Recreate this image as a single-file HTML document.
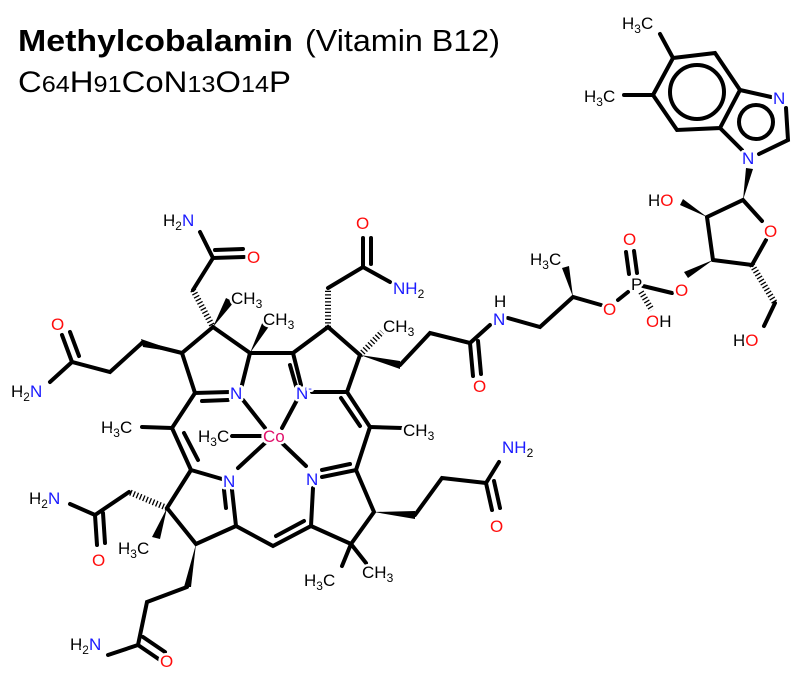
<!DOCTYPE html>
<html><head><meta charset="utf-8"><style>
body{margin:0;background:#fff}
svg{display:block}
.b{stroke:#000;stroke-width:4;stroke-linecap:round;fill:none}
.h{stroke:#000;stroke-width:6;stroke-dasharray:1.3 2.2;fill:none}
.w{fill:#000;stroke:none}
text{font-family:"Liberation Sans",sans-serif;font-size:17px;paint-order:stroke;stroke:#fff;stroke-width:5px;stroke-linejoin:round}
.n{fill:#1a1aff}.o{fill:#ff0d0d}.k{fill:#000}.c{fill:#e0106a}
.t{stroke:none}
</style></head><body>
<svg width="800" height="678" viewBox="0 0 800 678" xmlns="http://www.w3.org/2000/svg">
<text class="t" x="18" y="51" font-weight="bold" textLength="275" lengthAdjust="spacingAndGlyphs" style="font-size:31px">Methylcobalamin</text>
<text class="t" x="305" y="51" style="font-size:31px" textLength="195" lengthAdjust="spacingAndGlyphs">(Vitamin B12)</text>
<text class="t" x="18" y="92" style="font-size:30px" textLength="273" lengthAdjust="spacingAndGlyphs">C<tspan style="font-size:23px">64</tspan>H<tspan style="font-size:23px">91</tspan>CoN<tspan style="font-size:23px">13</tspan>O<tspan style="font-size:23px">14</tspan>P</text>

<g class="b">
<path d="M200,232 L213,258 L244,257"/><path d="M215,250 L243,249"/>
<path d="M213,258 L193,290"/>
<path d="M213,327 L182,353 L195,393 L230,392"/><path d="M242,385 L250,353 L213,327"/>
<path d="M202,401 L228,400"/>
<path d="M182,353 L142,343"/>
<path d="M142,343 L110,372 L72,362 L50,382"/>
<path d="M72,362 L62,335"/><path d="M79,356 L70,332"/>
<path d="M250,353 L293,353 L301,385"/><path d="M290,365 L296,386"/>
<path d="M293,353 L328,327 L360,355 L347,392 L312,392"/>
<path d="M328,288 L363,267 L390,282"/>
<path d="M363,267 L363,238"/><path d="M371,264 L371,238"/>
<path d="M400,365 L430,333 L470,343 L490,325"/>
<path d="M470,343 L473,376"/><path d="M478,341 L481,374"/>
<path d="M508,318 L540,327 L573,297 L601,305"/>
<path d="M618,300 L628,292"/>
<path d="M643,286 L672,293"/>
<path d="M629,274 L626,252"/><path d="M637,273 L634,251"/>
<path d="M713,260 L707,217 L743,200 L762,221"/>
<path d="M766,240 L752,265 L713,260"/>
<path d="M775,303 L764,326"/>
<path d="M653,95 L673,58 L715,53 L740,90 L720,128 L677,130 Z"/>
<circle cx="697" cy="92" r="27"/>
<path d="M740,90 L771,97"/><path d="M786,108 L788,140 L759,154"/>
<path d="M742,150 L720,128"/>
<circle cx="756" cy="122" r="17"/>
<path d="M673,58 L660,34"/><path d="M653,95 L624,95"/>
<path d="M243,400 L265,428"/><path d="M297,400 L282,428"/>
<path d="M265,443 L238,468"/><path d="M282,443 L306,466"/>
<path d="M232,436 L262,436"/>
<path d="M195,393 L172,428 L191,470 L222,479"/>
<path d="M184,433 L198,460"/>
<path d="M142,427 L172,428"/>
<path d="M191,470 L167,508 L196,544 L236,526 L232,490"/>
<path d="M226,508 L224,490"/>
<path d="M129,492 L95,515 L70,504"/><path d="M95,515 L97,545"/><path d="M103,513 L105,543"/>
<path d="M187,587 L147,602 L138,645 L108,655"/>
<path d="M138,645 L160,660"/><path d="M143,637 L165,652"/>
<path d="M236,526 L273,546 L311,526 L313,488"/>
<path d="M276,536 L304,521"/>
<path d="M311,526 L351,544 L374,512 L356,470 L322,477"/>
<path d="M322,470 L350,464"/>
<path d="M356,470 L370,427 L347,392"/><path d="M360,426 L341,398"/>
<path d="M370,427 L402,428"/>
<path d="M351,544 L342,566"/><path d="M351,544 L366,563"/>
<path d="M415,515 L442,478 L486,483 L499,462"/>
<path d="M486,483 L492,510"/><path d="M494,481 L500,508"/>
</g>
<g class="h">
<path d="M193,290 L213,327"/>
<path d="M328,327 L328,290"/>
<path d="M360,355 L382,332"/>
<path d="M167,508 L129,492"/>
<path d="M641,292 L652,310"/>
<path d="M752,265 L775,303"/>
</g>
<g class="w">
<polygon points="213,327 226,298 234,302"/>
<polygon points="250,353 263,321 270,325"/>
<polygon points="182,353 141,339 143,347"/>
<polygon points="360,355 400,361 400,369"/>
<polygon points="573,297 562,268 569,266"/>
<polygon points="713,260 688,278 684,272"/>
<polygon points="707,217 680,205 683,199"/>
<polygon points="743,200 746,168 753,169"/>
<polygon points="167,508 152,537 160,539"/>
<polygon points="196,544 184,587 191,587"/>
<polygon points="374,512 415,511 415,519"/>
</g>
<g>
<text class="k" x="163" y="226">H<tspan font-size="12" dy="4">2</tspan><tspan class="n" dy="-4">N</tspan></text>
<text class="o" x="247" y="263">O</text>
<text class="k" x="231" y="304">CH<tspan font-size="12" dy="4">3</tspan></text>
<text class="k" x="263" y="325">CH<tspan font-size="12" dy="4">3</tspan></text>
<text class="o" x="51" y="330">O</text>
<text class="k" x="11" y="397">H<tspan font-size="12" dy="4">2</tspan><tspan class="n" dy="-4">N</tspan></text>
<text class="n" x="230" y="399">N</text>
<text class="n" x="296" y="399">N<tspan font-size="11" dy="-7">-</tspan></text>
<text class="o" x="356" y="229">O</text>
<text class="n" x="393" y="294">NH<tspan class="k" font-size="12" dy="4">2</tspan></text>
<text class="k" x="383" y="332">CH<tspan font-size="12" dy="4">3</tspan></text>
<text class="o" x="473" y="392">O</text>
<text class="k" x="494" y="307">H</text>
<text class="n" x="493" y="325">N</text>
<text class="k" x="530" y="265">H<tspan font-size="12" dy="4">3</tspan><tspan dy="-4">C</tspan></text>
<text class="o" x="603" y="315">O</text>
<text class="k" x="631" y="290">P</text>
<text class="o" x="623" y="245">O</text>
<text class="o" x="646" y="327">O<tspan class="k">H</tspan></text>
<text class="o" x="675" y="296">O</text>
<text class="k" x="648" y="206">H<tspan class="o">O</tspan></text>
<text class="o" x="764" y="237">O</text>
<text class="k" x="733" y="346">H<tspan class="o">O</tspan></text>
<text class="n" x="742" y="164">N</text>
<text class="n" x="773" y="104">N</text>
<text class="k" x="622" y="29">H<tspan font-size="12" dy="4">3</tspan><tspan dy="-4">C</tspan></text>
<text class="k" x="584" y="102">H<tspan font-size="12" dy="4">3</tspan><tspan dy="-4">C</tspan></text>
<text class="k" x="101" y="433">H<tspan font-size="12" dy="4">3</tspan><tspan dy="-4">C</tspan></text>
<text class="k" x="198" y="442">H<tspan font-size="12" dy="4">3</tspan><tspan dy="-4">C</tspan></text>
<text class="c" x="263" y="442">Co</text>
<text class="k" x="403" y="436">CH<tspan font-size="12" dy="4">3</tspan></text>
<text class="n" x="223" y="487">N</text>
<text class="n" x="306" y="485">N</text>
<text class="k" x="29" y="504">H<tspan font-size="12" dy="4">2</tspan><tspan class="n" dy="-4">N</tspan></text>
<text class="o" x="92" y="566">O</text>
<text class="k" x="118" y="554">H<tspan font-size="12" dy="4">3</tspan><tspan dy="-4">C</tspan></text>
<text class="k" x="304" y="586">H<tspan font-size="12" dy="4">3</tspan><tspan dy="-4">C</tspan></text>
<text class="k" x="362" y="578">CH<tspan font-size="12" dy="4">3</tspan></text>
<text class="n" x="502" y="453">NH<tspan class="k" font-size="12" dy="4">2</tspan></text>
<text class="o" x="490" y="532">O</text>
<text class="k" x="70" y="650">H<tspan font-size="12" dy="4">2</tspan><tspan class="n" dy="-4">N</tspan></text>
<text class="o" x="160" y="667">O</text>
</g>
</svg>
</body></html>
